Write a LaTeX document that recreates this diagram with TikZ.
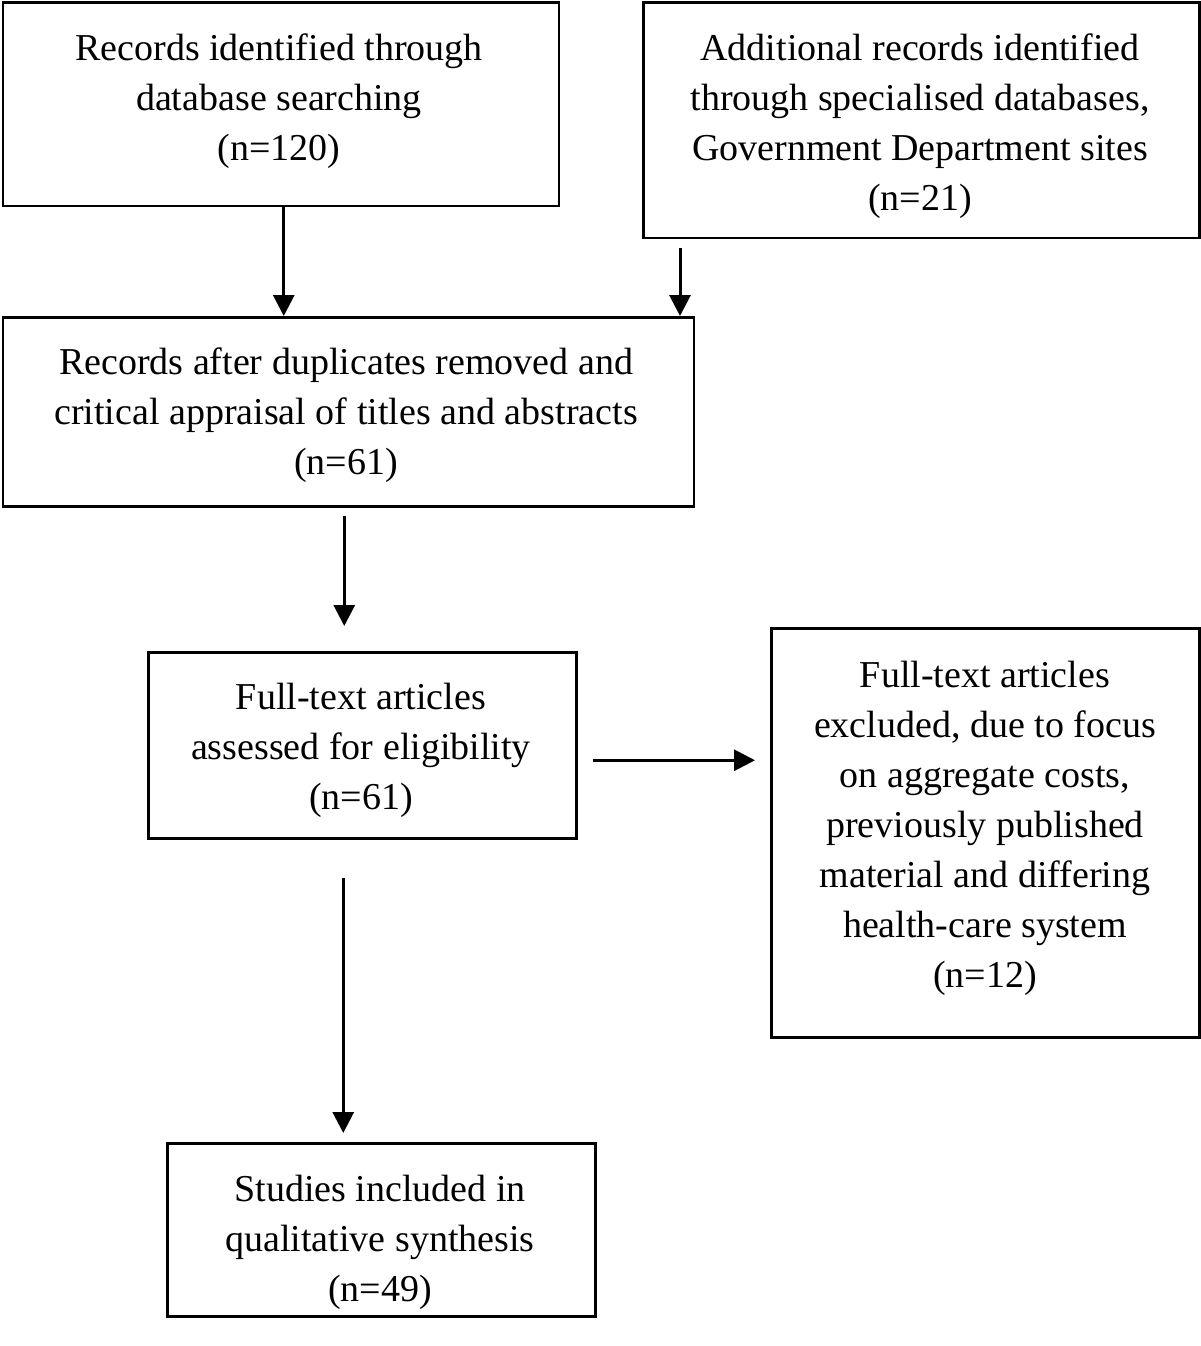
\documentclass[tikz,border=0pt]{standalone}
\usepackage{fontspec}
\setmainfont{Liberation Serif}
\usetikzlibrary{arrows.meta}
\begin{document}
\begin{tikzpicture}[x=1pt,y=-1pt,
  box/.style={draw, line width=2.5pt, inner sep=0pt, anchor=north west},
  txt/.style={align=center, font=\fontsize{38}{50}\selectfont, inner sep=0pt},
  arr/.style={line width=3pt, -{Triangle[length=21pt,width=21pt]}}]
\useasboundingbox (0,0) rectangle (1200,1346);
% boxes
\node[box, minimum width=556pt, minimum height=203pt] (A) at (1.5,1.5) {};
\node[box, minimum width=556pt, minimum height=235pt] (B) at (642,1.5) {};
\node[box, minimum width=691pt, minimum height=189pt] (C) at (1.5,316) {};
\node[box, minimum width=428pt, minimum height=186pt] (D) at (147,651) {};
\node[box, minimum width=428pt, minimum height=409pt] (E) at (770,627) {};
\node[box, minimum width=428pt, minimum height=173pt] (F) at (166,1142) {};
% texts
\node[txt] (tA) at (279,101) {Records identified through\\database searching\\(n=120)};
\node[txt] (tB) at (920,126) {Additional records identified\\through specialised databases,\\Government Department sites\\(n=21)};
\node[txt] (tC) at (346,415) {Records after duplicates removed and\\critical appraisal of titles and abstracts\\(n=61)};
\node[txt] (tD) at (361,750) {Full-text articles\\assessed for eligibility\\(n=61)};
\node[txt] (tE) at (985,828) {Full-text articles\\excluded, due to focus\\on aggregate costs,\\previously published\\material and differing\\health-care system\\(n=12)};
\node[txt] (tF) at (380,1242) {Studies included in\\qualitative synthesis\\(n=49)};
% arrows
\draw[arr] ([xshift=3pt]A.south) -- ([xshift=3pt]A.south |- C.north);
\draw[arr] ([xshift=38pt,yshift=-9pt]B.south west) -- ([xshift=38pt]B.south west |- C.north);
\draw[arr] ([xshift=-4pt,yshift=-8pt]C.south) -- ([xshift=-4pt,yshift=25pt]C.south |- D.north);
\draw[arr] ([xshift=15pt,yshift=-15pt]D.east) -- ([xshift=-15pt,yshift=-15pt]D.east -| E.west);
\draw[arr] ([xshift=-19pt,yshift=-38pt]D.south) -- ([xshift=-19pt,yshift=9pt]D.south |- F.north);
\end{tikzpicture}
\end{document}
